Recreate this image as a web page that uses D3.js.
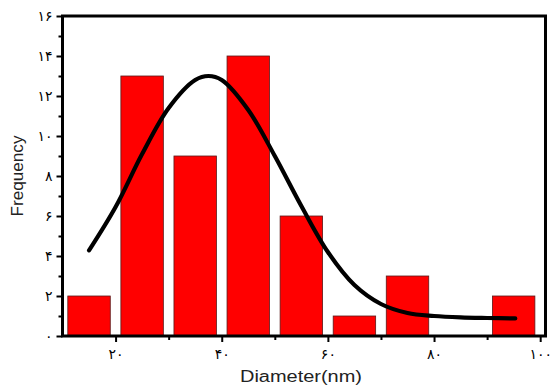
<!DOCTYPE html>
<html>
<head>
<meta charset="utf-8">
<script src="https://cdn.jsdelivr.net/npm/d3@7"></script>
<style>
  html, body { margin: 0; padding: 0; background: #fff; }
  svg { display: block; }
</style>
</head>
<body>
<svg id="chart" width="554" height="385"></svg>
<script>
// Histogram bins (lower edge, nm) and their counts
const binStarts = [10, 20, 30, 40, 50, 60, 70, 80, 90];
const binCounts = [2, 13, 9, 14, 6, 1, 3, 0, 2];
const binWidth = 10;

// Fitted distribution curve, sampled along the diameter axis
const fitX = [15, 20, 25, 30, 35, 37.5, 40, 45, 50, 55, 60, 65, 70, 75, 80, 85, 90, 95.3];
const fitY = [4.28, 6.45, 9.1, 11.4, 12.8, 13.0, 12.8, 11.3, 9.0, 6.5, 4.2, 2.55, 1.6, 1.15, 1.0, 0.93, 0.9, 0.88];

// Tick values and their Persian-digit labels
const xTicks = [20, 40, 60, 80, 100];
const xTickLabels = ["۲۰", "۴۰", "۶۰", "۸۰", "۱۰۰"];
const yTicks = [0, 2, 4, 6, 8, 10, 12, 14, 16];
const yTickLabels = ["۰", "۲", "۴", "۶", "۸", "۱۰", "۱۲", "۱۴", "۱۶"];

const svg = d3.select("#chart");
const plotL = 62.5, plotR = 545.5, plotT = 16, plotB = 336;

const x = d3.scaleLinear().domain([10, 101]).range([plotL, plotR]);
const y = d3.scaleLinear().domain([0, 16]).range([plotB, plotT]);

// Bars
svg.append("g").selectAll("rect")
  .data(binStarts.map((s, i) => ({ s, c: binCounts[i] })).filter(d => d.c > 0))
  .join("rect")
  .attr("x", d => x(d.s + binWidth * 0.1))
  .attr("width", d => x(d.s + binWidth * 0.9) - x(d.s + binWidth * 0.1))
  .attr("y", d => y(d.c))
  .attr("height", d => y(0) - y(d.c))
  .attr("fill", "#ff0000")
  .attr("stroke", "#5a1a1a")
  .attr("stroke-width", 0.8);

// Fit curve
const line = d3.line()
  .x(d => x(d[0]))
  .y(d => y(d[1]))
  .curve(d3.curveCatmullRom.alpha(0.5));
svg.append("path")
  .datum(fitX.map((v, i) => [v, fitY[i]]))
  .attr("d", line)
  .attr("fill", "none")
  .attr("stroke", "#000")
  .attr("stroke-width", 4.2)
  .attr("stroke-linecap", "round");

// Bottom axis with major and minor ticks
const xAxis = d3.axisBottom(x)
  .tickValues(xTicks)
  .tickSize(6)
  .tickPadding(7)
  .tickFormat((d, i) => xTickLabels[i]);
svg.append("g").attr("transform", `translate(0,${plotB})`).call(xAxis);
const xMinor = d3.axisBottom(x).tickValues([30, 50, 70, 90]).tickSize(4).tickFormat("");
svg.append("g").attr("transform", `translate(0,${plotB})`).call(xMinor);

// Left axis with major and minor ticks
const yAxis = d3.axisLeft(y)
  .tickValues(yTicks)
  .tickSize(6)
  .tickPadding(4)
  .tickFormat((d, i) => yTickLabels[i]);
svg.append("g").attr("transform", `translate(${plotL},0)`).call(yAxis);
const yMinor = d3.axisLeft(y).tickValues([1, 3, 5, 7, 9, 11, 13, 15]).tickSize(4).tickFormat("");
svg.append("g").attr("transform", `translate(${plotL},0)`).call(yMinor);

svg.selectAll(".domain").remove();
svg.selectAll(".tick line").attr("stroke", "#000").attr("stroke-width", 2);
svg.selectAll(".tick text")
  .attr("font-family", "'DejaVu Sans', sans-serif")
  .attr("font-size", 14)
  .attr("fill", "#000");

// Frame
svg.append("rect")
  .attr("x", plotL).attr("y", plotT)
  .attr("width", plotR - plotL).attr("height", plotB - plotT)
  .attr("fill", "none")
  .attr("stroke", "#000")
  .attr("stroke-width", 3);

// Axis titles
svg.append("text")
  .attr("x", (plotL + plotR) / 2 - 3)
  .attr("y", 382)
  .attr("text-anchor", "middle")
  .attr("font-family", "'Liberation Sans', Arial, sans-serif")
  .attr("font-size", 16)
  .attr("textLength", 122)
  .attr("lengthAdjust", "spacingAndGlyphs")
  .attr("fill", "#222")
  .text("Diameter(nm)");

svg.append("text")
  .attr("transform", "translate(23,176) rotate(-90)")
  .attr("text-anchor", "middle")
  .attr("font-family", "'Liberation Sans', Arial, sans-serif")
  .attr("font-size", 16)
  .attr("textLength", 81)
  .attr("lengthAdjust", "spacingAndGlyphs")
  .attr("fill", "#222")
  .text("Frequency");
</script>
</body>
</html>
